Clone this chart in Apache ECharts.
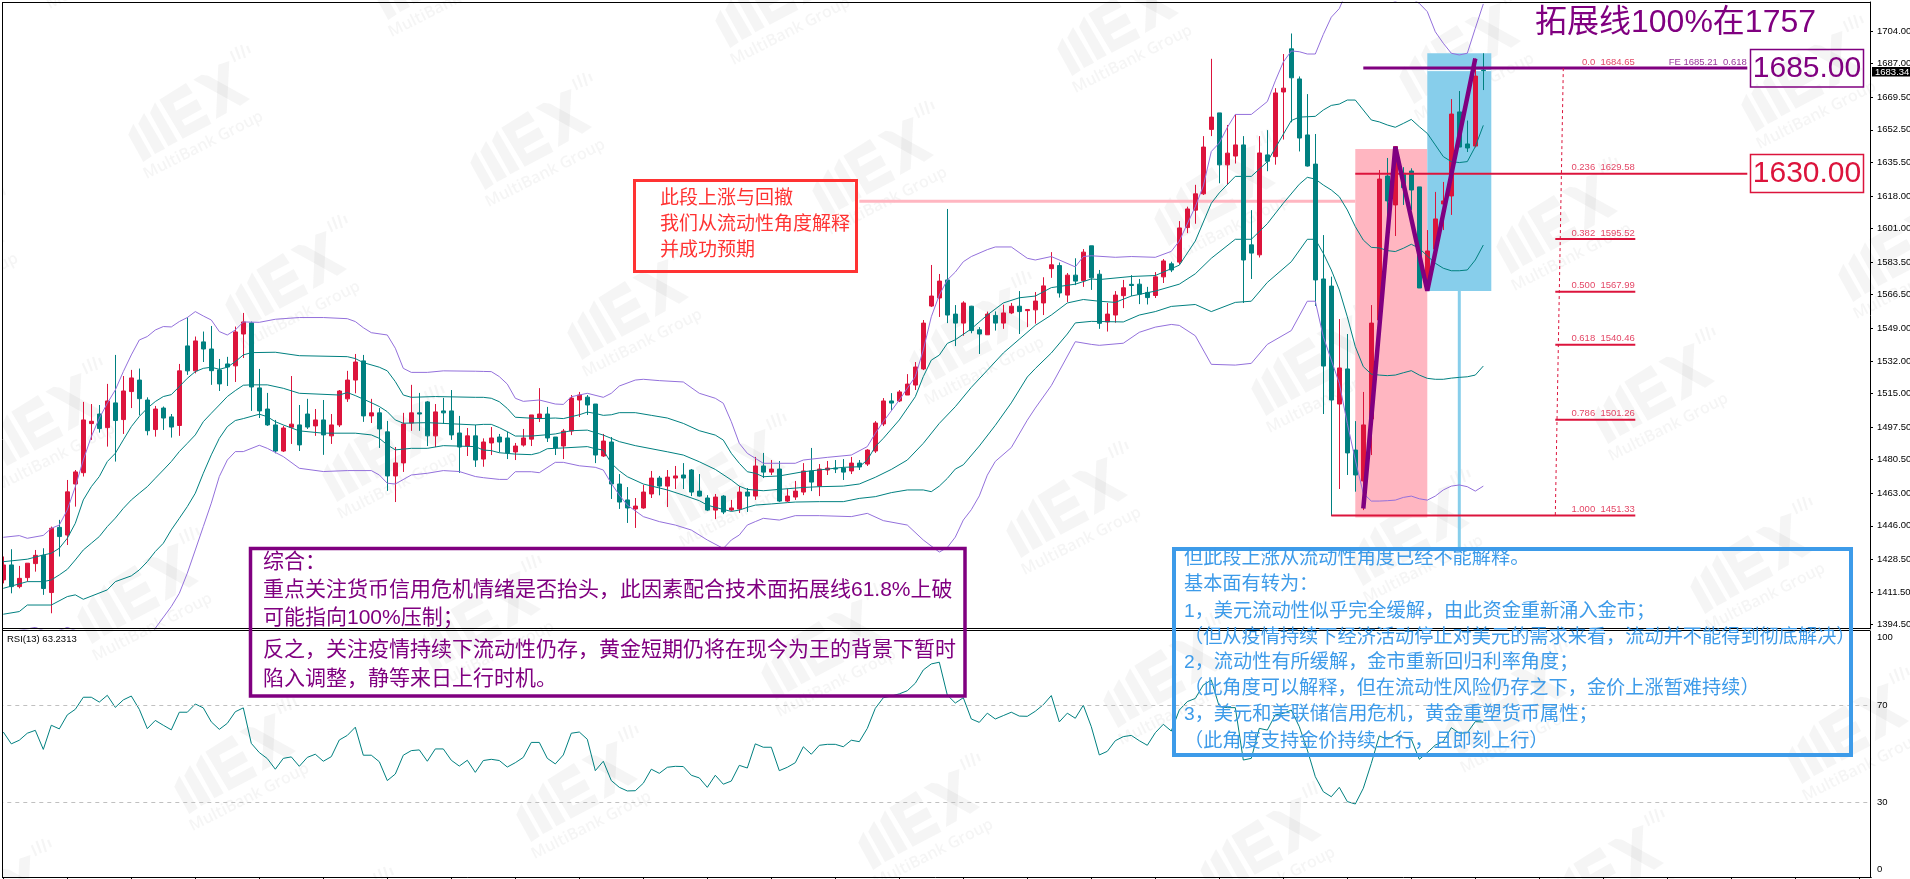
<!DOCTYPE html>
<html><head><meta charset="utf-8">
<style>html,body{margin:0;padding:0;background:#fff}#c{width:1910px;height:879px}</style>
<script src="https://cdn.jsdelivr.net/npm/echarts@6/dist/echarts.min.js"></script>
</head><body><div id="c"></div>
<script>
// [open, close, low, high]
const candles=[
[1417.8,1425.6,1416,1430],[1425.6,1414.3,1410.8,1433.8],[1414.3,1418.6,1413.4,1425.1],[1419,1426.5,1416.9,1426.5],[1426.3,1430.6,1422.1,1433.4],[1430.6,1413.3,1410,1434.3],[1411.2,1444.7,1400.4,1445.6],[1445.2,1440.4,1430,1449.1],[1441.2,1463.7,1436,1469.9],[1467.8,1474.1,1456,1475.1],
[1473.7,1501.2,1471.7,1510.6],[1499.3,1500.5,1490.8,1509.5],[1504.3,1496.7,1494.6,1509],[1497.2,1511.1,1487.3,1520],[1510.1,1500.9,1479.5,1535.1],[1501.4,1516.3,1493.9,1524.1],[1516,1523.1,1507.4,1527.3],[1522,1512.3,1503.6,1528],[1511.6,1495.6,1493.2,1513],[1496.2,1506.9,1492.5,1508.5],
[1507.4,1502.2,1496,1508.2],[1502.8,1497.5,1492,1504.3],[1498.3,1526.8,1492.9,1530.4],[1539.8,1526.8,1524.7,1554.7],[1526.8,1542.4,1525.5,1544.7],[1541.9,1538.2,1531.4,1547.3],[1538.2,1526.9,1519.5,1550.2],[1527.3,1520,1516.3,1533],[1530.4,1528.8,1518.9,1534.1],[1529.4,1547.1,1521,1549.9],
[1546,1552.3,1533.5,1557],[1551.8,1518.4,1505.9,1552.5],[1517.9,1505.9,1502.2,1527.8],[1506.9,1498.6,1498.1,1515.3],[1498.6,1485,1483.8,1501.2],[1485,1497,1484.5,1498.1],[1497.4,1499,1488.7,1524.1],[1498.6,1488.2,1485,1509],[1504.3,1497.5,1496.5,1512.2],[1498.1,1501.2,1492.9,1506.9],
[1501.2,1493.4,1483,1511.6],[1492.9,1498.6,1488.7,1504.3],[1498.6,1516.3,1497.5,1516.8],[1512.2,1522,1510.6,1526.8],[1522,1531.4,1515.1,1535.6],[1532,1503.3,1500.2,1535.1],[1503.3,1504.9,1499.6,1512.2],[1504.9,1496.5,1486.6,1507.4],[1495,1472,1464.2,1500.7],[1472,1478.8,1458.4,1487.1],
[1478.8,1499.1,1474.1,1504.9],[1499.6,1504.9,1495.5,1519.5],[1504.9,1504.3,1495.5,1515.3],[1510.6,1492.9,1487.6,1511.1],[1492.9,1505.4,1487.1,1509.5],[1505.9,1504.9,1499.1,1512.7],[1505.9,1493.4,1490.8,1516.8],[1494.4,1487.1,1473.6,1503.3],[1487.6,1492.9,1482.4,1497],[1492.9,1480.3,1476.7,1498.6],
[1480.8,1489.7,1476.8,1491.6],[1489.2,1491.8,1482.9,1497.5],[1492.3,1489.7,1484.3,1493.9],[1491.8,1484,1480.8,1495.1],[1484.5,1487.6,1480.3,1489.2],[1488.1,1491.8,1487.3,1496.5],[1491.2,1503.8,1487.6,1503.8],[1502.2,1504.3,1500.1,1517.8],[1504.3,1491.8,1489.7,1508],[1492.3,1486.6,1482.9,1492.3],
[1487.6,1495.4,1480.8,1496.5],[1495.4,1512.6,1493.3,1514.2],[1511.6,1514.2,1502.7,1515.8],[1513.1,1509,1503.8,1514.2],[1509.5,1482.9,1478.7,1509.5],[1482.4,1490.2,1481.9,1493.9],[1489.7,1467.8,1460,1492.3],[1467.8,1458.4,1454.8,1473],[1459.5,1455.3,1447.5,1466.2],[1454.8,1456.3,1444.9,1460.5],
[1455.3,1463.6,1454.9,1467.3],[1462.6,1470.9,1460.5,1474.6],[1470.9,1466.7,1461.9,1472],[1466.7,1471.4,1455.8,1475.1],[1470.9,1472,1465.2,1477.2],[1472.5,1470.9,1465.2,1478.7],[1475.1,1463.6,1461.5,1475.6],[1464.1,1461.5,1461.2,1473],[1460.5,1454.2,1453.7,1462],[1454.2,1461,1449.5,1462.6],
[1461.5,1453.2,1452.1,1462],[1454.2,1455.3,1453.7,1459.5],[1454.8,1463.6,1452.7,1466.7],[1463.6,1461.5,1453.2,1465.7],[1461.5,1477.2,1459.5,1481.9],[1477.2,1474,1470.9,1484],[1474,1475.6,1472.5,1480.3],[1475.6,1458.9,1458.4,1479.8],[1458.9,1461.5,1458.4,1465.2],[1461,1464.1,1459.5,1469.4],
[1463.6,1474.6,1462,1478.7],[1474.6,1468.8,1464.1,1486.6],[1466.7,1475.6,1461.5,1478.2],[1475.1,1476.1,1472.5,1479.8],[1476.1,1475.6,1473.5,1480.3],[1476.1,1474,1469.9,1480.8],[1474.6,1478.7,1473,1481.9],[1478.7,1476.7,1475.1,1480.3],[1478.2,1485.5,1477.2,1486],[1485,1499.6,1484,1500.6],
[1499.1,1511.1,1498,1512.6],[1511.1,1510,1506.4,1515.2],[1511.1,1515.8,1510.5,1516.8],[1514.2,1519.9,1514.2,1525.1],[1519.4,1528.8,1516.8,1531.4],[1527.8,1551.7,1527.2,1553.3],[1560.6,1565.8,1560.1,1582],[1564.8,1573.6,1554.9,1577.3],[1574.2,1555.9,1551.7,1611.2],[1556.4,1551.7,1539.7,1561.1],
[1551.7,1562.2,1545.1,1563.1],[1560.5,1547.8,1546.4,1560.7],[1548.2,1546,1535.6,1549.6],[1545.6,1556.4,1545.5,1557.7],[1555.7,1551.7,1547.8,1557.8],[1551.7,1557,1548.7,1561.3],[1557,1560.5,1556.4,1562.2],[1560.5,1557.7,1546,1568.4],[1558.2,1558.8,1549.6,1558.9],[1558.6,1563.2,1551.4,1567.9],
[1562.2,1571.1,1555.9,1575.6],[1580.1,1582.1,1575.3,1588.7],[1581.7,1567.4,1565,1583.3],[1566.3,1576.7,1562.7,1577.8],[1576.7,1573.6,1571.5,1585.5],[1573.8,1588.7,1570.6,1590.3],[1592,1575.3,1569,1592],[1577.2,1551.6,1548.7,1579.4],[1552.3,1556.4,1547.3,1562.2],[1555.9,1566.3,1551.9,1568.4],
[1566,1570.1,1559.5,1574.2],[1571.9,1571.3,1565.8,1576.7],[1572,1566.8,1561.6,1574.7],[1567.7,1565,1561.4,1570.6],[1566.1,1575.8,1564.8,1578.3],[1575.8,1584.1,1572.6,1585.1],[1582.6,1579.4,1578.3,1583.7],[1583.5,1601.3,1582.3,1604.9],[1601.5,1611.2,1598.6,1612.4],[1610.6,1619.1,1603.5,1623.8],
[1619.1,1643.5,1618.5,1649.2],[1652.7,1659.1,1649.2,1689.5],[1661.3,1634.2,1624.6,1661.3],[1634.2,1640.3,1624.1,1655],[1638.8,1644.6,1634.9,1660.5],[1644.6,1584.6,1562.2,1649.2],[1592.5,1588.2,1574.7,1610.6],[1587.3,1640.4,1585.9,1649.2],[1639.4,1636.1,1630.9,1652.3],[1638.5,1671.7,1634.3,1674.2],
[1672.2,1674.2,1647.4,1692],[1694.7,1679.6,1656.4,1702.7],[1679,1648.2,1641.2,1680.3],[1649.8,1633.6,1633.3,1671.1],[1634.6,1574.2,1560.6,1650.3],[1574.7,1529.3,1504.3,1597.6],[1571,1511.6,1451.1,1575.9],[1509.5,1528.3,1465.2,1553.8],[1527.8,1484,1472.5,1546],[1485.5,1472.5,1463.8,1500.6],
[1469.4,1498.6,1454.2,1515.8],[1501.7,1551.7,1482.9,1561.1],[1553.3,1626.8,1552.8,1631.5],[1628.4,1615.4,1605.5,1637.8],[1613.3,1643.7,1597.1,1644],[1629.8,1622.3,1613.3,1633],[1631,1621.1,1610.7,1632.4],[1622.7,1570,1570,1622.7],[1570.7,1589.3,1569,1600.2],[1590.3,1606,1589.8,1620.1],
[1613.8,1615.4,1600.2,1625.3],[1618,1660.7,1608.1,1668.5],[1661.8,1643.5,1643.5,1672.7],[1645.1,1643,1640.9,1657.3],[1644,1680.5,1643.3,1689.7],[1683.6,1683.34,1673.2,1692.4]
];
// Bollinger outlines: [bar index, price]
const bbUpperOuter=[[0,1440],[2,1440.9],[3,1439.5],[5,1441],[6,1444.7],[7,1446.4],[8,1454.3],[9,1466.4],[10,1480.3],[11,1492.5],[12,1502.1],[13,1509.9],[14,1516.8],[15,1526.4],[16,1535.1],[17,1542.9],[18,1544.7],[19,1548.1],[20,1549.9],[21,1549.7],[22,1552.5],[23,1554.6],[24,1557.7],[25,1555.4],[26,1553.3],[27,1547.3],[28,1545.5],[29,1548.1],[30,1552.3],[32,1552.1],[34,1553.7],[37,1554.6],[40,1554.6],[43,1554],[44,1552.5],[45,1549.3],[46,1546.7],[48,1545.5],[49,1538.6],[50,1528.1],[51,1526],[53,1526],[55,1526.8],[59,1526.6],[60,1526.5],[61,1526.4],[62,1523.8],[63,1519.9],[64,1512.5],[65,1510.9],[67,1511.6],[69,1509.5],[70,1509.3],[71,1513.3],[73,1515.1],[75,1513],[76,1515.1],[77,1518.9],[79,1522],[80,1522.4],[82,1521.7],[85,1521],[87,1515.1],[89,1512.5],[90,1509.9],[91,1500.3],[92,1489],[93,1483.8],[94,1481.2],[95,1478.6],[97,1478.6],[99,1478.6],[100,1480.3],[103,1481.7],[106,1482.9],[108,1487.3],[109,1494.2],[110,1500.3],[112,1511.6],[114,1523.8],[115,1537.7],[116,1555],[117,1566.3],[118,1574.2],[119,1578.3],[120,1583.7],[121,1586.4],[123,1590],[124,1591.4],[126,1591.4],[128,1585.5],[129,1584.6],[131,1586.4],[134,1581],[135,1586.4],[136,1586.8],[139,1586],[141,1586.4],[144,1586],[146,1589.1],[147,1594.5],[149,1612.4],[150,1623.2],[151,1641.2],[152,1645.6],[153,1653.7],[154,1660.5],[156,1660.5],[158,1667.2],[159,1678],[160,1687.8],[161,1693.6],[162,1693.2],[163,1692],[164,1692],[165,1702.2],[166,1711.2],[167,1715.7],[168,1725.4],[170,1727],[172,1723.6],[174,1719.3],[175,1721.9],[176,1721],[177,1718.4],[178,1714.1],[179,1703.6],[180,1697.6],[181,1692.4],[182,1691.5],[183,1692.4],[184,1705.4],[185,1718.1]];
const bbUpperInner=[[0,1427.3],[3,1428.6],[5,1430.8],[6,1431.7],[7,1434.3],[8,1439.5],[9,1447.3],[10,1459.5],[11,1466.4],[12,1471.7],[13,1479.5],[14,1483.8],[15,1490.8],[16,1497.7],[17,1503],[18,1507.3],[19,1510.8],[20,1513.4],[21,1514.4],[22,1518.6],[23,1522.9],[24,1526.4],[25,1528.1],[26,1528.7],[27,1527.6],[28,1528.7],[29,1531.6],[30,1535.1],[31,1536.3],[34,1536.5],[37,1534.7],[43,1534.2],[44,1533.2],[45,1531.1],[47,1528.7],[48,1526.8],[49,1521.2],[50,1514.2],[51,1513],[54,1513.4],[59,1513],[60,1513],[61,1512.5],[62,1510.7],[63,1507.2],[64,1502.6],[67,1501.9],[69,1502.2],[70,1501.9],[72,1503.9],[73,1505.3],[74,1504.6],[75,1503.6],[76,1503.9],[77,1505],[79,1505],[81,1503.6],[83,1502.2],[85,1499.4],[87,1495.6],[89,1493.3],[90,1490.7],[91,1483.8],[92,1478.6],[93,1474.2],[94,1473.4],[95,1471.6],[97,1472],[100,1474.2],[105,1476.5],[107,1476.8],[108,1480.3],[109,1487.3],[110,1491.6],[112,1501.2],[114,1513.3],[115,1523.8],[116,1532.4],[117,1535],[118,1541.1],[119,1543],[121,1548.7],[123,1555.9],[125,1562.2],[127,1564.9],[129,1565.8],[131,1570.2],[134,1572],[136,1574.7],[137,1574.4],[141,1576],[144,1576.5],[146,1580.1],[147,1581.9],[149,1594.5],[151,1614.2],[152,1619.6],[154,1628.2],[156,1628.2],[158,1635.8],[161,1657.3],[162,1659.1],[164,1659.5],[165,1662.8],[166,1665.2],[167,1665.9],[168,1668],[169,1668],[170,1662.8],[171,1657.6],[172,1656.6],[173,1655],[174,1653.8],[175,1655.8],[176,1657.9],[177,1654.1],[178,1650.6],[179,1644.6],[180,1638.5],[181,1635.9],[182,1635.4],[183,1635.9],[184,1643.7],[185,1654.8]];
const bbMiddle=[[0,1413.4],[3,1416.9],[5,1416.9],[6,1417.8],[7,1420.4],[8,1423.3],[9,1428.2],[10,1433.4],[11,1436.9],[12,1440.4],[13,1445.6],[14,1450],[15,1455.1],[16,1459.5],[17,1463],[18,1466.4],[19,1470.8],[20,1475.1],[21,1479.5],[22,1484.7],[23,1489],[24,1493.4],[25,1500.3],[26,1504.7],[27,1509],[28,1513.4],[29,1516.5],[30,1519.3],[31,1519.5],[33,1519.5],[35,1517.7],[37,1515.1],[42,1514.2],[43,1515.5],[44,1513.9],[46,1510.2],[47,1508.2],[48,1505.5],[49,1501.2],[50,1499.5],[53,1499.8],[59,1498.6],[60,1498.9],[61,1498.9],[62,1497.2],[63,1495.1],[64,1492.8],[66,1492.8],[68,1493.5],[69,1493.9],[71,1495.6],[73,1495.9],[75,1493.3],[77,1489.9],[79,1487.8],[83,1484.6],[85,1482.9],[87,1479.4],[89,1475.4],[91,1469.9],[92,1466.7],[93,1465],[95,1464.3],[97,1465],[100,1466],[102,1466.4],[105,1466.7],[107,1467.8],[109,1471.3],[111,1475.4],[113,1480.3],[115,1489],[117,1499.4],[119,1508.1],[121,1518.2],[123,1527.1],[125,1536.1],[127,1543.3],[129,1550.5],[131,1555.9],[133,1562.2],[135,1564],[137,1563.1],[139,1562.5],[141,1565.8],[144,1568.4],[147,1572],[149,1577.4],[151,1585.5],[154,1595.4],[156,1595.4],[158,1603.5],[160,1614.2],[162,1624.1],[163,1627.7],[164,1626.8],[165,1623.7],[166,1621.1],[167,1617.6],[168,1610.7],[169,1602],[170,1595],[171,1591.2],[172,1590.9],[173,1589.5],[174,1589],[175,1590.7],[176,1592.8],[177,1590.7],[178,1586.7],[179,1582.9],[180,1580.3],[181,1579],[182,1579],[183,1579.4],[184,1584.6],[185,1592.4]];
const bbLowerInner=[[0,1399.9],[2,1401.3],[3,1404.7],[6,1404.7],[8,1409.1],[9,1410],[10,1407.7],[13,1412.6],[14,1416.9],[16,1419.9],[17,1423],[18,1427.3],[19,1432.6],[20,1436.9],[21,1443.9],[22,1449.9],[23,1456],[24,1463],[25,1473.4],[26,1483],[27,1491.6],[28,1497.7],[29,1500.9],[30,1501.9],[32,1504.2],[33,1502.9],[34,1500.3],[35,1498.6],[37,1495.5],[40,1494.3],[44,1494.3],[46,1493.4],[47,1491.6],[48,1488.2],[49,1485.6],[51,1486.4],[53,1486.4],[55,1487.8],[59,1487.3],[60,1485.5],[61,1485.2],[62,1484.1],[64,1483.4],[66,1483.1],[67,1484.1],[68,1486.2],[70,1486.6],[73,1487.3],[74,1486.2],[75,1485.5],[76,1478.6],[77,1474.7],[78,1471.6],[80,1467.8],[83,1464.7],[85,1462],[87,1459.1],[88,1456.8],[89,1455.6],[91,1453.5],[92,1454.2],[93,1455.6],[94,1456.8],[96,1457.4],[98,1458.1],[99,1458.4],[102,1458.6],[105,1458.6],[107,1460.3],[109,1461.2],[111,1463.3],[113,1464.7],[115,1464.7],[116,1463.8],[117,1466.7],[118,1470.7],[119,1475.6],[120,1477.8],[122,1487.6],[124,1498.4],[126,1510.1],[128,1523.6],[129,1528],[131,1536.1],[133,1546],[134,1551.8],[136,1552.6],[140,1552.3],[142,1555.9],[144,1557.7],[146,1560.4],[149,1561.4],[151,1557.7],[154,1562.5],[156,1563.1],[158,1572.9],[161,1583.7],[163,1595.4],[164,1595.4],[165,1588.1],[166,1579.4],[167,1569],[168,1555],[169,1539.4],[170,1529],[171,1525.1],[172,1524.6],[173,1524.3],[174,1524.6],[175,1525.8],[176,1526.9],[177,1524.6],[178,1522.9],[179,1522.4],[180,1522.4],[181,1523],[182,1523.4],[183,1523.7],[184,1524.6],[185,1529.3]];
const bbLowerOuter=[[0,1390],[4,1393],[6,1390],[8,1393],[10,1390],[12,1383],[16,1379.5],[18,1384.8],[19,1392.6],[21,1403.9],[22,1410.8],[23,1421.3],[24,1433.4],[25,1445.6],[26,1457.8],[27,1471.7],[28,1480.3],[29,1484.7],[30,1484.7],[32,1488],[33,1486.4],[35,1482.1],[37,1476],[40,1474.3],[43,1474.8],[46,1474.8],[47,1472.5],[48,1468.2],[49,1467.8],[51,1472.5],[53,1473.4],[55,1474.8],[57,1474.3],[59,1471.7],[60,1471.1],[62,1470.2],[63,1470.2],[64,1474.2],[66,1474.2],[67,1473.7],[69,1479.1],[70,1479.1],[72,1477.3],[74,1476.5],[75,1475.1],[76,1468.1],[77,1462],[78,1456.8],[80,1450.8],[82,1448.2],[84,1446.4],[86,1443.8],[88,1438.6],[90,1434.2],[91,1438.6],[92,1441.2],[93,1446.4],[94,1448.2],[95,1449.9],[97,1449],[99,1451.3],[102,1451.3],[106,1450.8],[108,1452.5],[110,1448.7],[113,1446.4],[115,1438.6],[117,1432.3],[118,1434.7],[119,1440.1],[120,1449],[121,1454.4],[122,1461.6],[123,1472.4],[124,1479.6],[126,1486.8],[128,1501.1],[129,1507.4],[131,1519.1],[134,1542],[136,1540.6],[137,1540.1],[140,1541.2],[142,1546.9],[144,1549.6],[146,1551],[147,1550.5],[149,1545.1],[151,1530.2],[154,1529.8],[156,1530.7],[158,1540.6],[161,1547.8],[163,1563.1],[164,1563.1],[165,1544.6],[166,1532.4],[167,1520.3],[168,1499.4],[169,1480.3],[170,1462.9],[171,1458.9],[172,1458.9],[173,1459.1],[174,1459.4],[175,1460.8],[176,1461.5],[177,1460.1],[178,1459.4],[179,1461.5],[180,1464.7],[181,1466.7],[182,1467.3],[183,1466.4],[184,1464.1],[185,1466.7]];
const rsiValues=[59.1,54.2,55.7,58.6,59.8,51.9,61.9,60.4,66.2,68.5,73.5,73.5,71.5,74.3,69.3,72.4,74,68.5,60.5,63.9,61.9,60,67.3,67.3,70.7,69.1,63.3,60.2,62.7,67.5,69.1,54.4,50.6,48.1,43.7,48.2,48.8,44.9,48.6,49.9,47,48.9,55.8,57.7,61.1,49.5,49.5,46.8,39,41.7,49.5,51.4,51.7,47,52.1,52.1,47.4,45,47.4,42.4,47.3,47.8,47.3,44.6,46.4,48.6,54.8,54.8,48.2,45.9,49.6,58.6,59.1,56.1,43.1,47,39,36.2,34.7,34.8,37.9,43.7,42,44.5,44.9,44.8,41.2,40.1,36.2,41.2,37.5,38.8,45.3,44.2,54.2,52.8,52.8,43.1,44.5,46.4,53,49.9,53.6,54,54,53,55.7,55.1,60.6,68.9,73.3,74,74.9,76.2,79.3,84.8,87.3,88,74.4,71.1,73.3,64.5,63.1,66.9,64.5,65.9,67.3,65.7,65.6,67.7,70.4,74.2,63.3,66.9,64.8,70.2,61.3,49.6,51.1,55.5,57.2,57.7,55.5,53.6,58.8,62.3,59.5,68.2,71.7,73,78.6,80.6,69.6,69.2,69.2,47.5,48.2,60.6,59.9,66.2,66.8,68.2,61.3,51.7,40.6,34.4,32.3,36.2,30.3,29.3,35.8,46.1,57.5,56.1,57.7,56.9,56.1,47.8,50.6,53.7,55.1,60.9,58.6,58.8,63.4,63.23];
const zigzag=[[170,1455],[174,1643.7],[178,1568.5],[184,1689.7]];
const priceTicks=[1704,1687,1669.5,1652.5,1635.5,1618,1601,1583.5,1566.5,1549,1532,1515,1497.5,1480.5,1463,1446,1428.5,1411.5,1394.5];
const rsiTickLabels={98.4:'100',70:'70',30:'30',2.1:'0'};
const fibLabels=[['0.0',1684.65],['0.236',1629.58],['0.382',1595.52],['0.500',1567.99],['0.618',1540.46],['0.786',1501.26],['1.000',1451.33]];
const purpleNote=['综合：','重点关注货币信用危机情绪是否抬头，此因素配合技术面拓展线61.8%上破','可能指向100%压制；','反之，关注疫情持续下流动性仍存，黄金短期仍将在现今为王的背景下暂时','陷入调整，静等来日上行时机。'];
const redNote=['此段上涨与回撤','我们从流动性角度解释','并成功预期'];
const blueNote=['但此段上涨从流动性角度已经不能解释。','基本面有转为：','1，美元流动性似乎完全缓解，由此资金重新涌入金市；','（但从疫情持续下经济活动停止对美元的需求来看，流动并不能得到彻底解决）','2，流动性有所缓解，金市重新回归利率角度；','（此角度可以解释，但在流动性风险仍存之下，金价上涨暂难持续）','3，美元和美联储信用危机，黄金重塑货币属性；','（此角度支持金价持续上行，且即刻上行）'];

const RED='#DC143C',TEAL='#008080',PURP='#800080',BB='#9370DB',PINK='#FFB6C1',SKY='#87CEEB',RB='#FF3333',BLUE='#3D9BE9';
const SLOTS=234;
const categories=Array.from({length:SLOTS},(_,i)=>String(i));
const FONT='"Liberation Sans","Noto Sans CJK SC",sans-serif';

function lineS(data,color,width,extra){return Object.assign({type:'line',xAxisIndex:0,yAxisIndex:0,data,showSymbol:false,symbol:'none',silent:true,animation:false,lineStyle:{color,width},z:4},extra||{});}
function seg(i0,p0,i1,p1,color,width,extra){return lineS([[i0,p0],[i1,p1]],color,width,extra);}

// Watermark
const wmPolys=[
[[-61.7,31.7],[-56.7,20.7],[-38.3,53.3],[-46.7,59]],
[[-51.7,20.7],[-46,10],[-25,45.7],[-35,51]],
[[-40,10],[-35,-0.7],[-12.3,38.3],[-21.7,43.3]],
[[-30.7,-3.3],[-4,-20],[2.7,-10],[-16.7,0],[-14,7.7],[6.7,-4],[12,6],[-8.3,17.3],[-5,22.7],[16.7,11],[21.3,20.7],[-7.3,35.7]],
[[3.3,-23.3],[11.7,-28.3],[18.3,-27.3],[60,-4],[50,2.7]],
[[28.3,-38.3],[39.3,-42],[36.7,10],[26,16]]];
const wmTicks=[[[40.7,-51.7],[45.3,-41.3]],[[45.5,-56],[50,-44]],[[51,-58],[55,-45]],[[57,-57],[60,-50]]];
const WM='rgba(120,120,120,0.075)';
const graphics=[];
for(let a=-8;a<=8;a++)for(let b=-8;b<=8;b++){
  const x=190+a*97+b*245,y=103+a*170-b*142;
  if(x<-90||x>2000||y<-80||y>960)continue;
  const ch=wmPolys.map(p=>({type:'polygon',shape:{points:p},style:{fill:WM},silent:true}));
  wmTicks.forEach(p=>ch.push({type:'polyline',shape:{points:p},style:{stroke:WM,lineWidth:2.2,fill:null},silent:true}));
  ch.push({type:'text',x:13.3,y:42.3,rotation:27*Math.PI/180,style:{text:'MultiBank Group',font:'600 16px "Open Sans"',fill:WM,align:'center',verticalAlign:'middle'},silent:true});
  graphics.push({type:'group',x,y,z:50,silent:true,children:ch});
}
function box(x0,y0,x1,y1,color,lw){graphics.push({type:'rect',z:60,silent:true,shape:{x:x0,y:y0,width:x1-x0,height:y1-y0},style:{fill:null,stroke:color,lineWidth:lw}});}
function txt(t,x,y,color,size,extra){graphics.push({type:'text',z:63,silent:true,x,y,style:Object.assign({text:t,fill:color,font:size+'px '+FONT,verticalAlign:'middle',align:'left'},extra||{})});}
function hline(x0,y,x1,color,w){graphics.push({type:'line',z:55,silent:true,shape:{x1:x0,y1:y,x2:x1,y2:y},style:{stroke:color,lineWidth:w||1}});}
function vline(x,y0,y1,color,w){graphics.push({type:'line',z:55,silent:true,shape:{x1:x,y1:y0,x2:x,y2:y1},style:{stroke:color,lineWidth:w||1}});}
// white gutter left of the frame, then frame lines
graphics.push({type:'rect',z:54,silent:true,shape:{x:0,y:0,width:2,height:879},style:{fill:'#fff'}});
hline(2,2.5,1870,'#000',1);hline(2,628.5,1870,'#000',1);hline(2,630.5,1870,'#000',1);
vline(2.5,2,877,'#000',1);
// boxes and notes
box(634.5,180.5,856.5,271.5,RB,3);
redNote.forEach((t,i)=>txt(t,660,199+i*26,RB,19));
box(250.5,548.5,965,696,PURP,3.5);
[562,590,618,650,679].forEach((y,i)=>txt(purpleNote[i],263,y,PURP,21));
box(1174,549,1851,755,BLUE,4);
[559,585,612,638,663,689,715,742].forEach((y,i)=>txt(blueNote[i],1184,y,BLUE,19.2));
box(1750.5,49.5,1863.5,87,PURP,1.5);txt('1685.00',1807,68.5,PURP,30,{align:'center'});
box(1750.5,154.5,1863.5,192.5,RED,1.5);txt('1630.00',1807,174,RED,30,{align:'center'});
txt('拓展线100%在1757',1535,23,PURP,32);
txt('RSI(13) 63.2313',7,639.5,'#000',9.5);
graphics.push({type:'rect',z:62,silent:true,shape:{x:1872,y:67,width:38,height:9.5},style:{fill:'#000'}});
txt('1683.34',1875,72,'#fff',9.5,{font:'9.5px "Liberation Sans"'});

const fibSeries={type:'scatter',xAxisIndex:0,yAxisIndex:0,symbolSize:1,silent:true,itemStyle:{color:'transparent'},z:5,animation:false,
  data:fibLabels.map(f=>({value:[204.1,f[1]],name:f[0]+'  '+f[1].toFixed(2)})),
  label:{show:true,position:'left',distance:0,offset:[0,-6],color:RED,fontSize:9.5,fontFamily:'Liberation Sans',formatter:p=>p.name}};
const feSeries={type:'scatter',xAxisIndex:0,yAxisIndex:0,symbolSize:1,silent:true,itemStyle:{color:'transparent'},z:5,animation:false,
  data:[{value:[218,1684.65],name:'FE 1685.21  0.618'}],
  label:{show:true,position:'left',distance:0,offset:[0,-6],color:PURP,fontSize:9.5,fontFamily:'Liberation Sans',formatter:p=>p.name}};

const option={
  backgroundColor:'#fff',animation:false,
  grid:[{left:-0.7,top:2,width:8*SLOTS,height:627,outerBoundsMode:'none'},{left:-0.7,top:631,width:8*SLOTS,height:246,outerBoundsMode:'none'}],
  xAxis:[
    {type:'category',gridIndex:0,data:categories,axisLine:{show:false},axisTick:{show:false},axisLabel:{show:false},splitLine:{show:false}},
    {type:'category',gridIndex:1,data:categories,axisLine:{show:true,onZero:false,lineStyle:{color:'#000'}},axisTick:{show:true,alignWithLabel:true,interval:7,length:2,lineStyle:{color:'#000'}},axisLabel:{show:false},splitLine:{show:false}}
  ],
  yAxis:[
    {type:'value',gridIndex:0,position:'right',offset:-1.3,min:1392.2,max:1719.12,splitLine:{show:false},
     axisLine:{show:true,lineStyle:{color:'#000'}},axisTick:{show:true,length:3,customValues:priceTicks,lineStyle:{color:'#000'}},
     axisLabel:{customValues:priceTicks,margin:7,fontSize:9.5,fontFamily:'Liberation Sans',color:'#000',formatter:v=>v.toFixed(2)}},
    {type:'value',gridIndex:1,position:'right',offset:-1.3,min:-0.93,max:100.93,splitLine:{show:false},
     axisLine:{show:true,lineStyle:{color:'#000'}},axisTick:{show:false},
     axisLabel:{customValues:[98.4,70,30,2.1],margin:7,fontSize:9.5,fontFamily:'Liberation Sans',color:'#000',formatter:v=>rsiTickLabels[v]}}
  ],
  graphic:{elements:graphics},
  series:[
    {type:'candlestick',xAxisIndex:0,yAxisIndex:0,data:candles,barWidth:4,silent:true,animation:false,z:3,
     itemStyle:{color:RED,color0:TEAL,borderColor:RED,borderColor0:TEAL,borderColorDoji:TEAL,borderWidth:1},
     markArea:{silent:true,z:1,data:[
       [{xAxis:169,yAxis:1642.5,itemStyle:{color:PINK,opacity:1}},{xAxis:178,yAxis:1450.3}],
       [{xAxis:178,yAxis:1692.4,itemStyle:{color:SKY,opacity:1}},{xAxis:186,yAxis:1568.4}]
     ]}},
    seg(107,1615.2,169,1615.2,PINK,3,{z:2}),
    seg(182,1568.4,182,1435,SKY,3,{z:2}),
    seg(178,1683.34,186,1683.34,'#fff',1,{z:2}),
    lineS(bbUpperOuter,BB,1),
    lineS(bbUpperInner,TEAL,1),
    lineS(bbMiddle,TEAL,1),
    lineS(bbLowerInner,TEAL,1),
    lineS(bbLowerOuter,BB,1),
    seg(170,1684.65,218,1684.65,PURP,3,{z:6}),
    seg(169,1629.58,218,1629.58,RED,2,{z:6}),
    seg(194,1595.52,204.1,1595.52,RED,2,{z:6}),
    seg(194,1567.99,204.1,1567.99,RED,2,{z:6}),
    seg(194,1540.46,204.1,1540.46,RED,2,{z:6}),
    seg(194,1501.26,204.1,1501.26,RED,2,{z:6}),
    seg(166,1451.33,204.3,1451.33,RED,2,{z:6}),
    seg(195,1684.65,194,1451.33,RED,1,{z:6,lineStyle:{color:RED,width:1,type:[3,3]}}),
    lineS(zigzag,PURP,4.5,{z:7}),
    fibSeries,feSeries,
    {type:'line',xAxisIndex:1,yAxisIndex:1,data:rsiValues,showSymbol:false,symbol:'none',silent:true,animation:false,lineStyle:{color:TEAL,width:1},z:4,
     markLine:{silent:true,symbol:'none',label:{show:false},lineStyle:{color:'#c0c0c0',type:[4,4],width:1},data:[{yAxis:70},{yAxis:30}]}}
  ]
};
const chart=echarts.init(document.getElementById('c'),null,{renderer:'canvas'});
chart.setOption(option);
</script></body></html>
